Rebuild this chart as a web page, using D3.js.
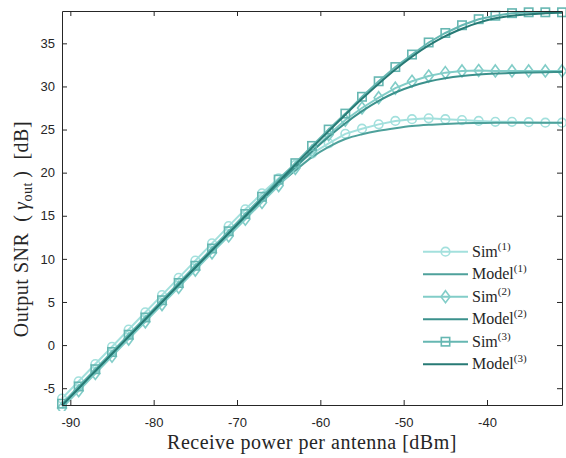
<!DOCTYPE html>
<html>
<head>
<meta charset="utf-8">
<script src="https://cdn.jsdelivr.net/npm/d3@7"></script>
<style>
  body { margin: 0; background: #fff; }
  svg { display: block; }
  .tick text { font-family: "Liberation Sans", Arial, sans-serif; font-size: 13px; fill: #262626; }
  .lab { font-family: "Liberation Serif", "DejaVu Serif", serif; font-size: 20px; fill: #262626; letter-spacing: 0.5px; }
  .leg { font-family: "Liberation Serif", "DejaVu Serif", serif; font-size: 16px; fill: #262626; }
</style>
</head>
<body>
<div id="chart"></div>
<script>
// receive power per antenna [dBm]
var power = [-91,-89,-87,-85,-83,-81,-79,-77,-75,-73,-71,-69,-67,-65,-63,-61,
             -59,-57,-55,-53,-51,-49,-47,-45,-43,-41,-39,-37,-35,-33,-31];

var sim1 = [-6.2,-4.2,-2.2,-0.2,1.8,3.8,5.8,7.8,9.8,11.8,13.8,15.75,17.6,19.35,20.9,22.2,
            23.4,24.5,25.1,25.6,26.0,26.2,26.3,26.2,26.1,26.0,25.9,25.9,25.85,25.8,25.8];
var model1 = [-7,-5,-3,-1,1,3,5,7,9,10.98,12.96,14.93,16.8,18.6,20.25,21.8,
              23.0,23.9,24.45,24.85,25.15,25.4,25.55,25.65,25.72,25.76,25.78,25.8,25.8,25.8,25.8];

var sim2 = [-7.3,-5.3,-3.3,-1.3,0.7,2.7,4.7,6.7,8.7,10.7,12.65,14.6,16.55,18.5,20.5,22.5,
            24.4,26.1,27.5,28.7,29.8,30.6,31.2,31.6,31.8,31.85,31.8,31.8,31.8,31.8,31.8];
var model2 = [-7,-5,-3,-1,1,3,5,6.99,8.98,10.96,12.94,14.91,16.86,18.77,20.65,22.45,
              24.16,25.73,27.13,28.33,29.3,30.03,30.58,30.96,31.22,31.39,31.5,31.57,31.62,31.65,31.67];

var sim3 = [-6.8,-4.8,-2.8,-0.8,1.2,3.2,5.2,7.2,9.2,11.2,13.2,15.2,17.2,19.2,21.1,23.1,
            25.0,26.85,28.8,30.6,32.25,33.7,35.1,36.2,37.1,37.8,38.2,38.5,38.6,38.6,38.6];
var model3 = [-7,-5,-3,-1,1,3,5,7,9,11,12.99,14.98,16.97,18.95,20.93,22.88,
              24.82,26.72,28.56,30.32,31.97,33.46,34.76,35.84,36.69,37.4,37.9,38.2,38.38,38.48,38.55];

var xTicks = [-90,-80,-70,-60,-50,-40];
var yTicks = [-5,0,5,10,15,20,25,30,35];

var W = 566, H = 458;
var m = {left: 62, right: 4, top: 11, bottom: 53};

var svg = d3.select("#chart").append("svg")
  .attr("width", W).attr("height", H);

var x = d3.scaleLinear().domain([-91, -31]).range([m.left, W - m.right]);
var y = d3.scaleLinear().domain([-6.95, 38.75]).range([H - m.bottom, m.top]);

var series = [
  {name: "Sim", k: 1, v: sim1, color: "#a3e0dd", mark: "circle"},
  {name: "Model", k: 1, v: model1, color: "#4ea19b"},
  {name: "Sim", k: 2, v: sim2, color: "#82cdc8", mark: "diamond"},
  {name: "Model", k: 2, v: model2, color: "#3b918c"},
  {name: "Sim", k: 3, v: sim3, color: "#66b7b2", mark: "square"},
  {name: "Model", k: 3, v: model3, color: "#277a75"}
];

svg.append("clipPath").attr("id", "clip").append("rect")
  .attr("x", m.left - 6).attr("y", m.top - 6)
  .attr("width", W - m.left - m.right + 12).attr("height", H - m.top - m.bottom + 12);

var plot = svg.append("g").attr("clip-path", "url(#clip)");

function drawMarker(g, type, color) {
  if (type == "circle") {
    g.append("circle").attr("r", 4.3);
  } else if (type == "square") {
    g.append("rect").attr("x", -4.2).attr("y", -4.2).attr("width", 8.4).attr("height", 8.4);
  } else {
    g.append("path").attr("d", "M0,-6L4.5,0L0,6L-4.5,0Z");
  }
  g.selectAll("*").attr("fill", "none").attr("stroke", color).attr("stroke-width", 1.6);
}

var line = d3.line()
  .x(function(d, i){ return x(power[i]); })
  .y(function(d){ return y(d); });

series.forEach(function(s) {
  var isModel = !s.mark;
  plot.append("path")
    .datum(s.v)
    .attr("fill", "none")
    .attr("stroke", s.color)
    .attr("stroke-width", 2)
    .attr("d", line.curve(isModel ? d3.curveMonotoneX : d3.curveLinear));
  if (s.mark) {
    s.v.forEach(function(d, i) {
      var g = plot.append("g").attr("transform", "translate(" + x(power[i]) + "," + y(d) + ")");
      drawMarker(g, s.mark, s.color);
    });
  }
});

// axes, MATLAB style box with inward ticks
var axCol = "#262626";
var fmt = function(d){ return String(d); };
var xb = svg.append("g").attr("transform", "translate(0," + (H - m.bottom) + ")")
  .call(d3.axisBottom(x).tickValues(xTicks).tickFormat(fmt).tickSizeInner(-5).tickSizeOuter(0).tickPadding(13));
var xt = svg.append("g").attr("transform", "translate(0," + m.top + ")")
  .call(d3.axisTop(x).tickValues(xTicks).tickSizeInner(-5).tickSizeOuter(0).tickFormat(""));
var yl = svg.append("g").attr("transform", "translate(" + m.left + ",0)")
  .call(d3.axisLeft(y).tickValues(yTicks).tickFormat(fmt).tickSizeInner(-5).tickSizeOuter(0).tickPadding(7));
var yr = svg.append("g").attr("transform", "translate(" + (W - m.right) + ",0)")
  .call(d3.axisRight(y).tickValues(yTicks).tickSizeInner(-5).tickSizeOuter(0).tickFormat(""));
[xb, xt, yl, yr].forEach(function(a) {
  a.select(".domain").attr("stroke", axCol);
  a.selectAll(".tick line").attr("stroke", axCol);
});

// axis labels
svg.append("text").attr("class", "lab")
  .attr("x", 312).attr("y", 449)
  .attr("text-anchor", "middle")
  .text("Receive power per antenna [dBm]");

var yt = svg.append("text").attr("class", "lab")
  .attr("transform", "translate(28,229) rotate(-90)")
  .attr("text-anchor", "middle");
yt.append("tspan").text("Output SNR \u00a0(\u2009");
yt.append("tspan").style("font-style", "italic").text("\u03b3");
yt.append("tspan").attr("dy", 4).style("font-size", "14px").text("out");
yt.append("tspan").attr("dy", -4).text("\u2009) \u00a0[dB]");

// legend
var leg = svg.append("g");
series.forEach(function(s, i) {
  var ly = 251.7 + i * 22.5;
  leg.append("line")
    .attr("x1", 423).attr("x2", 468).attr("y1", ly).attr("y2", ly)
    .attr("stroke", s.color).attr("stroke-width", 2);
  if (s.mark) {
    var g = leg.append("g").attr("transform", "translate(445.5," + ly + ")");
    drawMarker(g, s.mark, s.color);
  }
  var t = leg.append("text").attr("class", "leg")
    .attr("x", 472).attr("y", ly + 5);
  t.append("tspan").text(s.name);
  t.append("tspan").attr("dy", -7).style("font-size", "11px").text("(" + s.k + ")");
});
</script>
</body>
</html>
